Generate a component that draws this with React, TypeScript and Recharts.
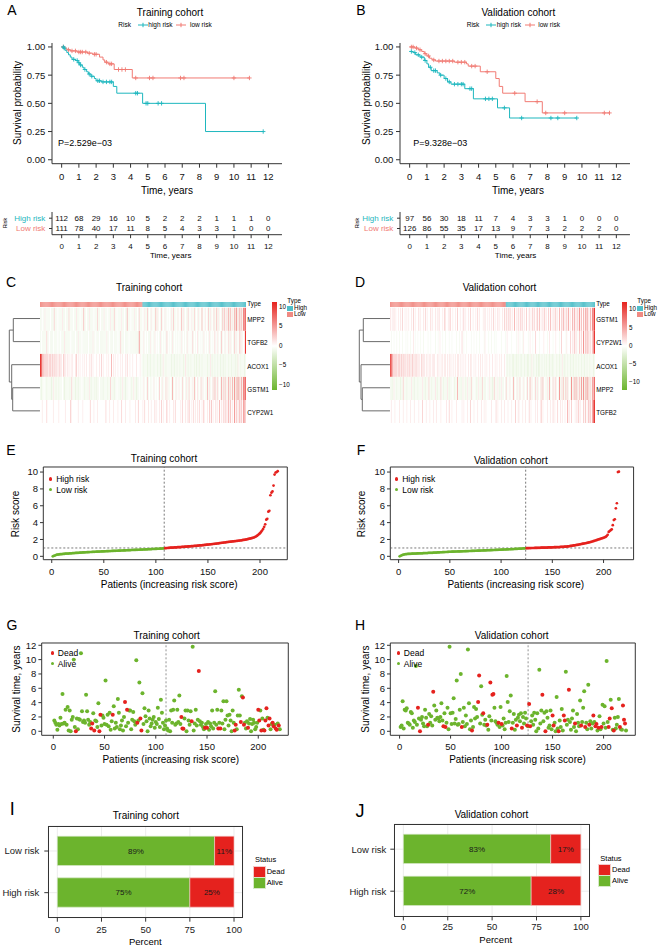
import React from 'react';
import {
  ComposedChart, ScatterChart, BarChart, Line, Scatter, Bar, Cell,
  XAxis, YAxis, ReferenceLine, ReferenceArea, CartesianGrid, LabelList,
} from 'recharts';

// ===================== DATA =====================
const YEARS = [0, 1, 2, 3, 4, 5, 6, 7, 8, 9, 10, 11, 12];
const SURV_TICKS = [0, 0.25, 0.5, 0.75, 1];
const RISK_LABELS = ['Low risk', 'High risk'];

// Kaplan-Meier step points [time, survival]
const A_HIGH = [[0, 1], [0.08, 0.99], [0.2, 0.97], [0.3, 0.95], [0.4, 0.93], [0.5, 0.91], [0.6, 0.89], [0.8, 0.88], [0.95, 0.86], [1.05, 0.84], [1.2, 0.82], [1.3, 0.8], [1.45, 0.78], [1.55, 0.76], [1.7, 0.74], [1.9, 0.72], [2.0, 0.7], [2.3, 0.69], [3.0, 0.65], [3.2, 0.59], [4.7, 0.5], [8.35, 0.25], [11.7, 0.25]];
const A_HIGH_CENS = [[0.1, 1.0], [0.15, 0.99], [0.7, 0.89], [0.9, 0.88], [1.0, 0.86], [1.1, 0.84], [1.35, 0.8], [1.6, 0.76], [1.75, 0.74], [2.1, 0.7], [2.2, 0.7], [2.4, 0.69], [2.6, 0.69], [2.8, 0.69], [2.9, 0.69], [4.3, 0.59], [4.4, 0.59], [4.9, 0.5], [5.0, 0.5], [5.6, 0.5], [5.8, 0.5], [11.7, 0.25]];
const A_LOW = [[0, 1], [0.15, 0.99], [0.3, 0.975], [0.5, 0.965], [0.9, 0.955], [1.5, 0.945], [1.8, 0.935], [2.2, 0.91], [2.4, 0.885], [2.5, 0.865], [2.7, 0.85], [3.05, 0.8], [4.1, 0.725], [10.9, 0.725]];
const A_LOW_CENS = [[0.1, 1.0], [0.4, 0.975], [0.6, 0.965], [0.8, 0.965], [1.0, 0.955], [1.1, 0.955], [1.2, 0.955], [1.4, 0.955], [1.6, 0.945], [1.9, 0.935], [2.0, 0.935], [2.6, 0.865], [2.8, 0.85], [2.9, 0.85], [3.3, 0.8], [3.5, 0.8], [3.7, 0.8], [4.3, 0.725], [5.1, 0.725], [5.3, 0.725], [6.9, 0.725], [7.1, 0.725], [10.0, 0.725], [10.9, 0.725]];
const B_HIGH = [[0, 0.96], [0.2, 0.95], [0.35, 0.93], [0.6, 0.91], [0.85, 0.88], [1.0, 0.85], [1.1, 0.82], [1.25, 0.79], [1.6, 0.77], [1.75, 0.75], [2.0, 0.72], [2.2, 0.69], [2.4, 0.67], [3.2, 0.63], [3.7, 0.54], [5.1, 0.46], [5.8, 0.37], [9.7, 0.37]];
const B_HIGH_CENS = [[0.1, 0.96], [0.3, 0.95], [0.5, 0.93], [0.7, 0.91], [0.9, 0.88], [1.2, 0.82], [1.4, 0.79], [1.5, 0.79], [1.8, 0.75], [2.1, 0.72], [2.3, 0.69], [2.6, 0.67], [2.8, 0.67], [3.0, 0.67], [3.1, 0.67], [3.5, 0.63], [3.6, 0.63], [4.4, 0.54], [4.6, 0.54], [4.8, 0.54], [5.5, 0.46], [6.5, 0.37], [8.2, 0.37], [8.6, 0.37], [9.7, 0.37]];
const B_LOW = [[0, 1], [0.3, 0.99], [0.5, 0.975], [0.7, 0.96], [0.85, 0.94], [1.0, 0.92], [1.15, 0.9], [1.3, 0.885], [1.5, 0.875], [2.6, 0.865], [3.3, 0.85], [3.4, 0.83], [4.1, 0.78], [5.0, 0.72], [5.2, 0.65], [5.4, 0.59], [6.7, 0.515], [7.7, 0.415], [11.6, 0.415]];
const B_LOW_CENS = [[0.1, 1.0], [0.2, 1.0], [0.4, 0.99], [0.6, 0.975], [0.9, 0.94], [1.1, 0.92], [1.4, 0.885], [1.7, 0.875], [1.9, 0.875], [2.1, 0.875], [2.3, 0.875], [2.5, 0.875], [2.8, 0.865], [3.0, 0.865], [3.2, 0.865], [3.6, 0.83], [3.8, 0.83], [4.5, 0.78], [6.1, 0.59], [7.4, 0.515], [7.9, 0.415], [9.0, 0.415], [11.3, 0.415], [11.6, 0.415]];
const A_PVALUE = 'P=2.529e\u221203';
const B_PVALUE = 'P=9.328e\u221203';

// Numbers at risk
const TRAIN_HIGH_N = [112, 68, 29, 16, 10, 5, 2, 2, 2, 1, 1, 1, 0];
const TRAIN_LOW_N = [111, 78, 40, 17, 11, 8, 5, 4, 3, 3, 1, 0, 0];
const VALID_HIGH_N = [97, 56, 30, 18, 11, 7, 4, 3, 3, 1, 0, 0, 0];
const VALID_LOW_N = [126, 86, 55, 35, 17, 13, 9, 7, 3, 2, 2, 2, 0];

// Heatmaps: one char per patient (levels), rows listed top to bottom
const C_GENES = ['MPP2', 'TGFB2', 'ACOX1', 'GSTM1', 'CYP2W1'];
const C_MPP2 = `aa0aa1aaaa a0aaa2aaa0 aaaa1aa0aa a2aaaa0aa1 aaa0aaa3aa 0aa1aaaa0a aa2aa0aaa1 aaa0aa1aaa 2aa0aaaa1a a0aa3aaa0a aa1aa0a2aa
a0a1aa2a0a 1a0aa3a1a0 a2a0a1aa0a 0a1a2aa0a1 a0a3a1a0aa 2a0a1aa2a0 a1a0a3a0a1 0a2a1a0a2a a3a1a0a2a3 1a2a4a3a1a 3a5a2a4a3a 545`;
const C_TGFB2 = `a0aaaaa2aa 0aaa0aaaa0 aa0aaa1aaa aaa0aaaa0a a1aaa0aaaa aa0aaaa1aa 0aaa0aaaaa aa1aa0aaa0 aaaa0aa2aa a0aaaa0aaa aaaaaaa4aa
0a1a0a0aa1 a0aa1a0a0a 1a0a0aa2a0 a0a1a0a0aa 0aa1a0a0a1 a0a0a2a0a0 1a0a0aa1a0 a0a1a0a0a2 0a1a0a2a0a 1a0a2a1a0a 2a1a0a3a1a 017`;
const C_ACOX1 = `7633222221 2212121211 1211021101 1010110012 0101001010 1001020100 0100102010 0010100301 0100100101 0010200100 1000100010
aabaaabaab aaabaaabaa baa1aabaaa aabaabaaba abaaaba1aa baabaaabab aabaabaaaa abaa1abaab aabaabaaba baaabaabaa abab1aabaa aba`;
const C_GSTM1 = `abaa0aabaa aaba1aabaa baaa0abaaa aaba2aaaba abaaa0aaba aaa1abaaab abaa0aaaba aaabaa2aaa baa0aaaba1 aabaaa0aab a1aabaa0aa
0a1a0a2a0a a0a1a0a0a2 0a1a0a2a1a a0a3a0a1a0 1a0a2a0a1a a2a0a1a3a0 1a0a2a1a0a a3a1a0a2a3 1a2a0a3a2a 3a1a4a2a3a 4a3a5a3a4a 545`;
const C_CYP2W1 = `0010000200 0000100000 1000000100 0003000000 0100001000 0000200010 0010000000 0200010001 0000100020 0010000100 0001002000
0102000100 1000201001 0201000300 1000102000 0010200101 0300102010 1020010300 0102030100 2010301020 3020403010 4030204030 432`;
const C_LOW_COUNT = 111;

const D_GENES = ['GSTM1', 'CYP2W1', 'ACOX1', 'MPP2', 'TGFB2'];
const D_GSTM1 = `1010201001 0102001010 1001020100 0201001020 1000201001 0102000102 1001030010 0102001001 2010010200 1001020100 0102001010 1020100201 0010202103 0201030102 1030201020 0201030201 2030102030 1020301020 3010302040 2030401030 4020305030 3040502040 547`;
const D_CYP2W1 = `0a00a00a00 a00a000a0a 00a0010a00 a00a00a000 0a00a0000a 00a0100a00 a000a00a00 00a00a0020 a00a0000a0 0a00a00a00 00a1000a00 a00a0a0000 0a000a0100 00a0000a01 0a00a10000 a0100a0020 00a0000100 0a01000a00 1000a02000 0a10002010 3020a03020 4030403020 347`;
const D_ACOX1 = `6542222212 2121212112 1211211121 1110211101 1011101110 0110101101 1010110101 0101101010 1010010110 0101001010 1001010010 0100101001 010010abaa baabbaabab aabbaabaab baab1abaab abbaabaaba baabaabbaa abaabaa1ab baabaabaab aabaabaaba abaabaabaa aba`;
const D_MPP2 = `aaba1aabaa abaa2aaaba aaa1aabaaa baaaa1aaba aa2aabaaa1 abaaa2aaba aa1abaaa0a baa3aaaba1 aaba1aaa2a a0aaba1aaa 2aaba0aa1a aba2aaa1ab a1aa0a2a0a 1a0a3a0a1a a2a0a1a0a2 0a3a1a0a2a 1a0a2a3a0a a1a3a0a2a1 2a0a4a1a3a a3a2a0a4a1 3a4a2a3a4a 4a3a5a3a2a 435`;
const D_TGFB2 = `0100010000 1000100010 0010001000 0100020001 0001000100 1000010000 0100200100 0010000010 1000100200 0100010001 0010100000 1000020100 0100100010 0010002001 1000100100 0201000010 1000301000 0100100201 0020010100 1004010200 0102030100 2030104030 457`;
const D_LOW_COUNT = 126;

// level char -> expression value
const LEVEL_VALUE: Record<string, number> = { c: -3, b: -1.6, a: -0.8, '0': 0, '1': 1.2, '2': 2.5, '3': 4, '4': 6, '5': 8, '6': 9.5, '7': 11 };
const COLORBAR_TICKS = ['10', '5', '0', '\u22125', '\u221210'];

// Dendrogram merges: [childA, childB, height]; numbers = row index (top = 0), 'mK' = merge K
const C_MERGES: [number | string, number | string, number][] = [[0, 1, 26.7], [3, 4, 27.3], [2, 'm1', 28.3], ['m0', 'm2', 30.7]];
const D_MERGES: [number | string, number | string, number][] = [[0, 1, 26.7], [3, 4, 27.7], [2, 'm1', 29], ['m0', 'm2', 30.7]];

// Risk scores (sorted)
const E_LOW = [0.00, 0.05, 0.10, 0.15, 0.19, 0.21, 0.23, 0.25, 0.26, 0.27,
  0.28, 0.29, 0.31, 0.32, 0.32, 0.33, 0.34, 0.35, 0.36, 0.37,
  0.38, 0.39, 0.40, 0.40, 0.41, 0.42, 0.43, 0.44, 0.45, 0.46,
  0.46, 0.47, 0.48, 0.49, 0.49, 0.50, 0.51, 0.51, 0.52, 0.53,
  0.53, 0.54, 0.55, 0.55, 0.56, 0.56, 0.57, 0.58, 0.58, 0.59,
  0.59, 0.60, 0.61, 0.61, 0.62, 0.62, 0.63, 0.64, 0.64, 0.65,
  0.65, 0.66, 0.66, 0.67, 0.67, 0.68, 0.69, 0.69, 0.70, 0.70,
  0.71, 0.72, 0.72, 0.73, 0.73, 0.74, 0.75, 0.75, 0.76, 0.76,
  0.77, 0.77, 0.78, 0.78, 0.79, 0.80, 0.80, 0.81, 0.81, 0.82,
  0.83, 0.83, 0.84, 0.85, 0.85, 0.86, 0.87, 0.87, 0.88, 0.88,
  0.89, 0.90, 0.90, 0.91, 0.92, 0.93, 0.94, 0.95];
const E_HIGH = [0.97, 0.98, 0.99, 1.00, 1.01, 1.02, 1.03, 1.04, 1.04, 1.05,
  1.06, 1.07, 1.08, 1.08, 1.09, 1.10, 1.11, 1.12, 1.13, 1.14,
  1.15, 1.16, 1.17, 1.18, 1.19, 1.20, 1.21, 1.22, 1.23, 1.24,
  1.25, 1.26, 1.27, 1.29, 1.30, 1.31, 1.32, 1.33, 1.35, 1.36,
  1.38, 1.39, 1.40, 1.42, 1.43, 1.45, 1.46, 1.48, 1.49, 1.51,
  1.52, 1.54, 1.56, 1.58, 1.60, 1.61, 1.63, 1.64, 1.66, 1.68,
  1.70, 1.71, 1.73, 1.74, 1.76, 1.77, 1.79, 1.80, 1.82, 1.83,
  1.85, 1.87, 1.88, 1.90, 1.92, 1.94, 1.96, 1.98, 2.00, 2.03,
  2.06, 2.09, 2.12, 2.15, 2.19, 2.23, 2.28, 2.34, 2.42, 2.52,
  2.63, 2.75, 2.90, 3.05, 3.25, 3.50, 3.80, 4.35, 4.45, 5.30,
  5.40, 7.25, 7.55, 7.70, 8.40, 9.70, 9.95, 10.00, 10.10];
const F_LOW = [0.00, 0.06, 0.12, 0.17, 0.21, 0.24, 0.26, 0.27, 0.28, 0.29,
  0.30, 0.30, 0.31, 0.31, 0.32, 0.32, 0.33, 0.34, 0.34, 0.35,
  0.35, 0.36, 0.36, 0.37, 0.38, 0.38, 0.39, 0.39, 0.40, 0.41,
  0.41, 0.42, 0.42, 0.43, 0.44, 0.44, 0.45, 0.46, 0.46, 0.47,
  0.48, 0.48, 0.49, 0.50, 0.50, 0.51, 0.51, 0.52, 0.53, 0.54,
  0.54, 0.55, 0.55, 0.56, 0.56, 0.57, 0.57, 0.58, 0.58, 0.58,
  0.59, 0.59, 0.60, 0.60, 0.61, 0.61, 0.62, 0.62, 0.63, 0.63,
  0.64, 0.64, 0.65, 0.65, 0.66, 0.66, 0.67, 0.67, 0.68, 0.68,
  0.69, 0.69, 0.70, 0.70, 0.71, 0.71, 0.72, 0.72, 0.73, 0.73,
  0.74, 0.74, 0.75, 0.75, 0.76, 0.77, 0.77, 0.78, 0.78, 0.79,
  0.80, 0.80, 0.81, 0.81, 0.82, 0.83, 0.83, 0.84, 0.84, 0.85,
  0.86, 0.86, 0.87, 0.88, 0.88, 0.89, 0.90, 0.90, 0.91, 0.92,
  0.93, 0.94, 0.95, 0.96];
const F_HIGH = [0.97, 0.97, 0.98, 0.98, 0.98, 0.99, 0.99, 0.99, 1.00, 1.00,
  1.00, 1.01, 1.01, 1.01, 1.02, 1.02, 1.02, 1.03, 1.03, 1.04,
  1.04, 1.05, 1.05, 1.06, 1.06, 1.07, 1.07, 1.08, 1.08, 1.09,
  1.09, 1.10, 1.10, 1.11, 1.12, 1.12, 1.13, 1.14, 1.15, 1.16,
  1.17, 1.19, 1.21, 1.23, 1.25, 1.27, 1.29, 1.31, 1.33, 1.35,
  1.37, 1.40, 1.42, 1.45, 1.47, 1.50, 1.52, 1.55, 1.57, 1.60,
  1.63, 1.66, 1.69, 1.72, 1.76, 1.80, 1.84, 1.88, 1.92, 1.96,
  2.00, 2.04, 2.08, 2.12, 2.16, 2.20, 2.25, 2.30, 2.40, 2.55,
  2.90, 3.00, 3.10, 3.20, 3.70, 4.30, 4.40, 5.70, 6.30, 10.00, 10.05];

// Survival time (years) per patient, and indices (1-based) of dead patients
const G_TIME = [1.5, 1.2, 0.9, 0.2, 1.0, 0.8, 1.9, 1.0, 5.2, 1.1,
  1.2, 3.0, 0.9, 3.4, 0.1, 2.9, 0.0, 1.6, 2.0, 10.0,
  0.6, 0.0, 1.8, 0.3, 1.7, 1.6, 10.9, 2.8, 1.3, 1.5,
  1.2, 5.1, 2.8, 1.6, 0.9, 1.3, 0.4, 1.1, 2.5, 0.1,
  1.5, 1.4, 0.6, 3.9, 0.0, 2.3, 0.8, 2.2, 1.9, 1.0,
  7.1, 0.9, 2.3, 0.7, 2.6, 0.2, 1.4, 2.3, 3.5, 0.4,
  1.2, 0.6, 4.5, 2.6, 0.3, 0.8, 1.5, 0.1, 2.0, 4.1,
  0.7, 3.0, 1.2, 2.9, 2.9, 0.3, 1.6, 2.7, 1.4, 0.9,
  9.9, 1.2, 1.5, 6.8, 1.8, 0.1, 5.3, 1.0, 3.2, 2.1,
  1.4, 0.0, 2.9, 1.8, 0.7, 1.1, 1.6, 2.0, 0.5, 1.3,
  1.0, 3.3, 1.7, 0.6, 4.4, 2.6, 1.2, 0.3, 0.8, 1.5,
  0.4, 0.1, 1.6, 0.0, 2.9, 1.2, 3.0, 4.3, 0.9, 1.1,
  3.0, 1.3, 5.0, 1.0, 2.0, 0.4, 0.35, 1.8, 2.9, 0.0,
  2.9, 1.5, 0.9, 2.8, 1.4, 11.8, 0.1, 1.1, 3.0, 0.8,
  1.6, 8.4, 1.4, 0.9, 1.2, 0.6, 0.3, 0.5, 1.0, 0.5,
  1.3, 0.2, 1.1, 0.7, 2.9, 0.4, 1.2, 5.6, 0.9, 3.0,
  0.4, 1.2, 0.4, 2.9, 1.1, 4.2, 0.3, 1.6, 4.2, 2.2,
  0.8, 2.3, 1.5, 0.0, 2.9, 1.2, 0.1, 0.9, 0.3, 2.2,
  5.8, 2.2, 1.3, 4.9, 4.7, 0.9, 1.2, 0.4, 1.4, 0.5,
  1.1, 1.7, 0.0, 1.0, 1.6, 1.2, 0.3, 0.6, 1.2, 3.0,
  1.5, 2.9, 0.1, 1.8, 0.2, 0.1, 1.5, 3.2, 1.9, 0.8,
  1.8, 0.3, 1.0, 1.2, 0.7, 0.9, 0.4, 0.2, 1.1, 0.8, 0.3];
const G_DEAD = [22, 37, 38, 40, 45, 46, 58, 70, 72, 82, 85, 86, 125, 126, 127, 135, 142, 148, 150, 161, 163, 177, 178, 183, 185, 186, 190, 200, 201, 203, 206, 207, 208, 210, 211, 214, 215, 217, 218, 220];
const H_TIME = [0.6, 0.8, 4.2, 0.4, 3.0, 2.9, 3.2, 1.2, 1.1, 0.9,
  2.7, 2.5, 0.5, 1.5, 1.3, 9.1, 0.9, 3.3, 1.8, 0.0,
  1.6, 2.0, 1.1, 0.7, 3.0, 1.9, 0.7, 0.9, 2.4, 1.2,
  2.1, 0.8, 5.5, 3.6, 1.6, 2.9, 1.9, 1.8, 1.4, 2.0,
  3.9, 1.5, 0.7, 2.5, 0.6, 1.2, 3.3, 0.3, 11.8, 2.5,
  1.0, 2.6, 4.6, 1.1, 1.7, 7.1, 0.9, 1.0, 3.0, 8.0,
  0.6, 1.3, 3.3, 0.7, 2.2, 1.0, 11.4, 3.9, 0.3, 1.5,
  0.1, 0.6, 3.4, 1.8, 3.1, 2.0, 4.1, 7.8, 1.1, 6.3,
  2.3, 2.5, 0.9, 1.6, 0.8, 0.9, 0.2, 2.1, 6.8, 1.5,
  5.1, 5.2, 3.3, 1.4, 1.2, 0.9, 1.2, 0.6, 3.4, 1.0,
  0.8, 1.8, 0.3, 1.2, 7.7, 4.1, 1.3, 2.8, 5.0, 0.4,
  1.2, 2.4, 0.2, 1.6, 0.8, 1.9, 2.3, 1.4, 2.5, 0.5,
  2.0, 1.1, 2.6, 1.8, 0.8, 0.7, 3.8, 0.7, 1.4, 2.2,
  0.9, 2.6, 1.6, 0.0, 2.5, 0.4, 8.6, 1.1, 2.9, 5.1,
  1.4, 2.6, 0.0, 2.8, 1.9, 0.5, 0.8, 2.9, 0.3, 2.2,
  0.8, 1.2, 0.0, 4.8, 0.4, 0.0, 1.5, 0.6, 3.1, 0.1,
  2.2, 1.5, 8.3, 0.9, 1.6, 5.8, 1.3, 0.2, 1.8, 2.9,
  0.6, 1.1, 0.0, 2.4, 1.2, 0.7, 4.3, 0.8, 1.3, 3.3,
  5.6, 0.6, 1.2, 0.3, 6.5, 0.9, 1.4, 0.4, 1.1, 2.2,
  1.3, 0.7, 1.0, 0.1, 0.5, 2.1, 0.3, 0.6, 3.7, 1.1,
  3.5, 0.5, 9.8, 1.3, 0.6, 1.8, 4.4, 3.2, 0.2, 0.1,
  1.9, 0.4, 0.9, 2.0, 4.5, 0.6, 0.3, 0.2, 3.6, 1.6, 1.1, 0.1];
const H_DEAD = [18, 20, 28, 33, 43, 45, 61, 71, 77, 78, 82, 86, 89, 91, 92, 97, 100, 110, 115, 120, 125, 127, 128, 140, 143, 150, 151, 156, 161, 162, 166, 172, 178, 182, 186, 190, 192, 193, 195, 198, 205, 206, 208, 210, 216, 219, 220, 221];

// Status percentages
const STATUS_GROUPS = ['Low risk', 'High risk'];
const TRAIN_ALIVE = [89, 75];
const TRAIN_DEAD = [11, 25];
const VALID_ALIVE = [83, 72];
const VALID_DEAD = [17, 28];

// ===================== STYLE =====================
const FONT = "'Liberation Sans', Arial, Helvetica, sans-serif";
const TEAL = '#1db7be';
const SALMON = '#f17a73';
const RED = '#e5221e';
const GREEN = '#6cb42d';
const AXIS = '#333333';
const TYPE_LOW = '#f08a83';
const TYPE_HIGH = '#4fbec8';
const HM_RED = [230, 35, 30];
const HM_GREEN = [108, 181, 45];
const KM_X_DOMAIN = [-0.56, 12.79];

// ===================== HELPERS =====================
function Txt({ x, y, s = 10, a = 'middle', rot = false, c = '#000', children }: any) {
  const tx = a === 'middle' ? '-50%' : a === 'end' ? '-100%' : '0';
  return (
    <div style={{ position: 'absolute', left: x, top: y, transform: `translate(${rot ? '-50%' : tx},-50%)${rot ? ' rotate(-90deg)' : ''}`, fontSize: s, lineHeight: 1, color: c, whiteSpace: 'nowrap' }}>
      {children}
    </div>
  );
}
function Abs({ left, top, children }: any) {
  return <div style={{ position: 'absolute', left, top }}>{children}</div>;
}
function frame(px0: number, py0: number, px1: number, py1: number, yw: number, xh: number, pad: any) {
  const left = px0 - yw - pad.l;
  const top = py0 - pad.t;
  return { left, top, width: px1 + pad.r - left, height: py1 + xh + pad.b - top, margin: { top: pad.t, right: pad.r, bottom: pad.b, left: pad.l } };
}
const plusShape = (color: string) => (p: any) => (
  <path d={`M${p.cx - 2.2},${p.cy}H${p.cx + 2.2}M${p.cx},${p.cy - 2.2}V${p.cy + 2.2}`} stroke={color} strokeWidth={0.9} fill="none" />
);
const dotShape = (color: string, r: number) => (p: any) => <circle cx={p.cx} cy={p.cy} r={r} fill={color} />;
const pairs = (a: number[][]) => a.map(([t, s]) => ({ t, s }));
function mix(c: number[], t: number) {
  const k = Math.max(0, Math.min(1, t));
  return `rgb(${Math.round(255 + (c[0] - 255) * k)},${Math.round(255 + (c[1] - 255) * k)},${Math.round(255 + (c[2] - 255) * k)})`;
}
function heatColor(ch: string) {
  const v = LEVEL_VALUE[ch] ?? 0;
  return v >= 0 ? mix(HM_RED, v / 11.3) : mix(HM_GREEN, -v / 11.3);
}

// ===================== PANELS =====================
function KM({ px0, px1, high, low, highC, lowC }: any) {
  const f = frame(px0, 43.3, px1, 164, 45, 22, { t: 5, r: 12, b: 0, l: 0 });
  return (
    <Abs left={f.left} top={f.top}>
      <ComposedChart width={f.width} height={f.height} margin={f.margin}>
        <XAxis type="number" dataKey="t" domain={KM_X_DOMAIN} allowDataOverflow ticks={YEARS} interval={0} height={22}
          tickSize={4} tickMargin={6} stroke={AXIS} tick={{ fontSize: 9.5, fill: '#111' }} />
        <YAxis type="number" dataKey="s" domain={[-0.035, 1.035]} allowDataOverflow ticks={SURV_TICKS} interval={0} width={45}
          tickSize={4} tickMargin={2.7} stroke={AXIS} tick={{ fontSize: 9.5, fill: '#111' }} tickFormatter={(v: number) => v.toFixed(2)} />
        <Line data={pairs(low)} dataKey="s" type="stepAfter" stroke={SALMON} strokeWidth={1} dot={false} isAnimationActive={false} />
        <Line data={pairs(high)} dataKey="s" type="stepAfter" stroke={TEAL} strokeWidth={1} dot={false} isAnimationActive={false} />
        <Scatter data={pairs(lowC)} shape={plusShape(SALMON)} isAnimationActive={false} />
        <Scatter data={pairs(highC)} shape={plusShape(TEAL)} isAnimationActive={false} />
      </ComposedChart>
    </Abs>
  );
}

function LegendKey({ x, color }: any) {
  return (
    <svg style={{ position: 'absolute', left: x, top: 21 }} width={10} height={8}>
      <line x1={0} y1={4} x2={10} y2={4} stroke={color} strokeWidth={1} />
      <line x1={5} y1={1.8} x2={5} y2={6.2} stroke={color} strokeWidth={1} />
    </svg>
  );
}
function KMLegend({ xs }: any) {
  return (
    <>
      <Txt x={xs[0]} y={25} s={6.5} a="start">Risk</Txt>
      <LegendKey x={xs[1]} color={TEAL} />
      <Txt x={xs[2]} y={25} s={6.5} a="start">high risk</Txt>
      <LegendKey x={xs[3]} color={SALMON} />
      <Txt x={xs[4]} y={25} s={6.5} a="start">low risk</Txt>
    </>
  );
}

function RiskTable({ px0, px1, high, low }: any) {
  const f = frame(px0, 211.8, px1, 234.5, 45, 20, { t: 3, r: 12, b: 0, l: 0 });
  const cells = YEARS.flatMap((t, i) => [{ t, r: 2, n: high[i] }, { t, r: 1, n: low[i] }]);
  const tick = (p: any) => (
    <text x={p.x} y={p.y} dy="0.35em" textAnchor="end" fontSize={8} fill={p.payload.value === 2 ? TEAL : SALMON}>
      {RISK_LABELS[p.payload.value - 1]}
    </text>
  );
  return (
    <Abs left={f.left} top={f.top}>
      <ComposedChart width={f.width} height={f.height} margin={f.margin}>
        <XAxis type="number" dataKey="t" domain={KM_X_DOMAIN} allowDataOverflow ticks={YEARS} interval={0} height={20}
          tickSize={3.5} tickMargin={4.8} stroke={AXIS} tick={{ fontSize: 8, fill: '#111' }} />
        <YAxis type="number" dataKey="r" domain={[0.4, 2.6]} allowDataOverflow ticks={[1, 2]} interval={0} width={45}
          tickSize={3} tickMargin={3.7} stroke={AXIS} tick={tick} />
        <Scatter data={cells} isAnimationActive={false}
          shape={(p: any) => <text x={p.cx} y={p.cy} dy="0.35em" textAnchor="middle" fontSize={8} fill="#111">{p.payload.n}</text>} />
      </ComposedChart>
    </Abs>
  );
}

function Heatmap({ px0, px1, rows, nLow }: any) {
  const clean: string[] = rows.map((r: string) => r.replace(/\s/g, ''));
  const n = clean[0].length;
  const data = Array.from({ length: n }, (_, i) => ({ i, r0: 1, r1: 1, r2: 1, r3: 1, r4: 1, gap: 0.025, typ: 0.22 }));
  return (
    <Abs left={px0} top={301.7}>
      <BarChart width={px1 - px0} height={121} data={data} margin={{ top: 0, right: 0, bottom: 0, left: 0 }} barCategoryGap={0} barGap={0}>
        <XAxis dataKey="i" type="category" hide />
        <YAxis type="number" domain={[0, 5.245]} allowDataOverflow hide />
        {[4, 3, 2, 1, 0].map((k) => (
          <Bar key={k} dataKey={`r${k}`} stackId="s" isAnimationActive={false}>
            {data.map((d) => <Cell key={d.i} fill={heatColor(clean[k][d.i])} />)}
          </Bar>
        ))}
        <Bar dataKey="gap" stackId="s" fill="rgba(255,255,255,0)" isAnimationActive={false} />
        <Bar dataKey="typ" stackId="s" isAnimationActive={false}>
          {data.map((d) => <Cell key={d.i} fill={d.i < nLow ? TYPE_LOW : TYPE_HIGH} />)}
        </Bar>
      </BarChart>
    </Abs>
  );
}

function buildLinks(merges: [number | string, number | string, number][]) {
  const nodes: { h: number; y: number }[] = [];
  const get = (k: number | string) => (typeof k === 'number' ? { h: 0, y: 4.5 - k } : nodes[Number(String(k).slice(1))]);
  return merges.map(([a, b, h]) => {
    const A = get(a);
    const B = get(b);
    nodes.push({ h, y: (A.y + B.y) / 2 });
    return [{ h: A.h, y: A.y }, { h, y: A.y }, { h, y: B.y }, { h: B.h, y: B.y }];
  });
}
function Dendro({ px0, px1, merges }: any) {
  const links = buildLinks(merges);
  return (
    <Abs left={px0} top={307.3}>
      <ComposedChart width={px1 - px0} height={115.4} margin={{ top: 0, right: 0, bottom: 0, left: 0 }}>
        <XAxis type="number" dataKey="h" domain={[0, 35]} reversed allowDataOverflow hide />
        <YAxis type="number" dataKey="y" domain={[0, 5]} allowDataOverflow hide />
        {links.map((l, i) => (
          <Line key={i} data={l} dataKey="y" type="linear" stroke="#6a6a6a" strokeWidth={1} dot={false} isAnimationActive={false} />
        ))}
      </ComposedChart>
    </Abs>
  );
}

function HeatDecor({ title, titleX, genes, labelX, barX, barLabelX, tickYs, typeX }: any) {
  const rowY = [320, 343, 366.5, 389.5, 412.5];
  return (
    <>
      <Txt x={titleX} y={288.3} s={10}>{title}</Txt>
      <div style={{ position: 'absolute', left: barX, top: 301.7, width: 5.6, height: 88.3, background: `linear-gradient(to bottom, rgb(${HM_RED.join(',')}) 0%, #ffffff 50%, rgb(${HM_GREEN.join(',')}) 100%)` }} />
      <Txt x={labelX} y={304} s={6.3} a="start">Type</Txt>
      {genes.map((g: string, i: number) => (
        <Txt key={g} x={labelX} y={rowY[i]} s={6.3} a="start">{g}</Txt>
      ))}
      {COLORBAR_TICKS.map((t, i) => (
        <Txt key={t} x={barLabelX} y={tickYs[i]} s={6.3} a="start">{t}</Txt>
      ))}
      <Txt x={typeX} y={300.8} s={6.3} a="start">Type</Txt>
      <div style={{ position: 'absolute', left: typeX, top: 305.8, width: 5.5, height: 5, background: TYPE_HIGH }} />
      <div style={{ position: 'absolute', left: typeX, top: 311.6, width: 5.5, height: 5, background: TYPE_LOW }} />
      <Txt x={typeX + 6.8} y={308.4} s={6.3} a="start">High</Txt>
      <Txt x={typeX + 6.8} y={314.3} s={6.3} a="start">Low</Txt>
    </>
  );
}

function ScorePanel({ px0, px1, xDom, low, high }: any) {
  const f = frame(px0, 467.3, px1, 560, 43.3, 22, { t: 2, r: 10, b: 0, l: 0 });
  const lowPts = low.map((y: number, i: number) => ({ x: i + 1, y }));
  const highPts = high.map((y: number, i: number) => ({ x: low.length + i + 1, y }));
  return (
    <Abs left={f.left} top={f.top}>
      <ScatterChart width={f.width} height={f.height} margin={f.margin}>
        <XAxis type="number" dataKey="x" domain={xDom} allowDataOverflow ticks={[0, 50, 100, 150, 200]} interval={0} height={22}
          tickSize={3.3} tickMargin={5} axisLine={false} stroke={AXIS} tick={{ fontSize: 9.5, fill: '#111' }} />
        <YAxis type="number" dataKey="y" domain={[-0.4, 10.6]} allowDataOverflow ticks={[0, 2, 4, 6, 8, 10]} interval={0} width={43.3}
          tickSize={3.3} tickMargin={2} axisLine={false} stroke={AXIS} tick={{ fontSize: 9.5, fill: '#111' }} />
        <ReferenceArea x1={xDom[0]} x2={xDom[1]} y1={-0.4} y2={10.6} fill="none" stroke={AXIS} strokeWidth={1} ifOverflow="visible" />
        <Scatter data={lowPts} shape={dotShape(GREEN, 1.35)} isAnimationActive={false} />
        <Scatter data={highPts} shape={dotShape(RED, 1.35)} isAnimationActive={false} />
        <ReferenceLine y={0.99} stroke="#555" strokeDasharray="2 2" strokeWidth={0.8} />
        <ReferenceLine x={low.length} stroke="#555" strokeDasharray="2 2" strokeWidth={0.8} />
      </ScatterChart>
    </Abs>
  );
}

function TimePanel({ px0, px1, xDom, times, dead, cut, yw }: any) {
  const f = frame(px0, 642.7, px1, 735, yw, 22, { t: 2, r: 10, b: 0, l: 0 });
  const deadSet = new Set(dead);
  const pts = times.map((y: number, i: number) => ({ x: i + 1, y, d: deadSet.has(i + 1) }));
  return (
    <Abs left={f.left} top={f.top}>
      <ScatterChart width={f.width} height={f.height} margin={f.margin}>
        <XAxis type="number" dataKey="x" domain={xDom} allowDataOverflow ticks={[0, 50, 100, 150, 200]} interval={0} height={22}
          tickSize={3.3} tickMargin={5} axisLine={false} stroke={AXIS} tick={{ fontSize: 9.5, fill: '#111' }} />
        <YAxis type="number" dataKey="y" domain={[-0.56, 12.32]} allowDataOverflow ticks={[0, 2, 4, 6, 8, 10, 12]} interval={0} width={yw}
          tickSize={3.3} tickMargin={2} axisLine={false} stroke={AXIS} tick={{ fontSize: 9.5, fill: '#111' }} />
        <ReferenceArea x1={xDom[0]} x2={xDom[1]} y1={-0.56} y2={12.32} fill="none" stroke={AXIS} strokeWidth={1} ifOverflow="visible" />
        <Scatter data={pts.filter((p: any) => !p.d)} shape={dotShape(GREEN, 2)} isAnimationActive={false} />
        <Scatter data={pts.filter((p: any) => p.d)} shape={dotShape(RED, 2)} isAnimationActive={false} />
        <ReferenceLine x={cut} stroke="#777" strokeDasharray="2 2" strokeWidth={0.8} />
      </ScatterChart>
    </Abs>
  );
}

function DotLegend({ x, y, labels, colors }: any) {
  return (
    <>
      {labels.map((l: string, i: number) => (
        <React.Fragment key={l}>
          <div style={{ position: 'absolute', left: x - 1.8, top: y + i * 10.5 - 1.8, width: 3.6, height: 3.6, borderRadius: '50%', background: colors[i] }} />
          <Txt x={x + 5.5} y={y + i * 10.5} s={8.5} a="start">{l}</Txt>
        </React.Fragment>
      ))}
    </>
  );
}

function StatusPanel({ px0, px1, py0, py1, alive, dead, ytm, xtm }: any) {
  const f = frame(px0, py0, px1, py1, 48.3, 24, { t: 2, r: 5, b: 0, l: 0 });
  const data = STATUS_GROUPS.map((g, i) => ({ group: g, alive: alive[i], dead: dead[i] }));
  const pct = (v: any) => `${v}%`;
  const ytick = (p: any) => (
    <text x={p.x} y={p.y} dy="0.35em" textAnchor="end" fontSize={9.5} fill="#222">{p.payload.value}</text>
  );
  return (
    <>
      <Abs left={f.left} top={f.top}>
        <BarChart layout="vertical" width={f.width} height={f.height} margin={f.margin} data={data} barSize={29.3}>
          <CartesianGrid stroke="#ececec" />
          <XAxis type="number" domain={[-5.1, 104.9]} allowDataOverflow ticks={[0, 25, 50, 75, 100]} interval={0} height={24}
            tickSize={4} tickMargin={xtm} axisLine={false} stroke={AXIS} tick={{ fontSize: 9.5, fill: '#222' }} />
          <YAxis type="category" dataKey="group" width={48.3} padding={{ top: 4.2, bottom: 4.2 }} interval={0}
            tickSize={4} tickMargin={ytm} axisLine={false} stroke={AXIS} tick={ytick} />
          <Bar dataKey="alive" stackId="s" fill={GREEN} stroke="#dcebd0" strokeWidth={0.6} isAnimationActive={false}>
            <LabelList dataKey="alive" position="center" formatter={pct} fill="#1a1a1a" fontSize={8} />
          </Bar>
          <Bar dataKey="dead" stackId="s" fill={RED} stroke="#f3d0cf" strokeWidth={0.6} isAnimationActive={false}>
            <LabelList dataKey="dead" position="center" formatter={pct} fill="#1a1a1a" fontSize={8} />
          </Bar>
        </BarChart>
      </Abs>
      <div style={{ position: 'absolute', left: px0 - 0.5, top: py0 - 0.5, width: px1 - px0 + 1, height: py1 - py0 + 1, border: `1px solid ${AXIS}`, boxSizing: 'border-box' }} />
    </>
  );
}

function StatusLegend({ x, y }: any) {
  return (
    <>
      <Txt x={x + 1} y={y} s={7.5} a="start">Status</Txt>
      <div style={{ position: 'absolute', left: x, top: y + 6.4, width: 11, height: 10.6, background: RED, outline: '0.5px solid #f4c9c8' }} />
      <div style={{ position: 'absolute', left: x, top: y + 17.2, width: 11, height: 10.6, background: GREEN, outline: '0.5px solid #d7e9c8' }} />
      <Txt x={x + 12.7} y={y + 11.7} s={7.5} a="start">Dead</Txt>
      <Txt x={x + 12.7} y={y + 22.5} s={7.5} a="start">Alive</Txt>
    </>
  );
}

// ===================== APP =====================
export default function App() {
  return (
    <div style={{ position: 'absolute', left: 0, top: 0, width: 659, height: 947, background: '#fff', fontFamily: FONT, overflow: 'hidden', color: '#000' }}>
      {/* A */}
      <Txt x={12} y={10} s={14}>A</Txt>
      <Txt x={170} y={12.5} s={10}>Training cohort</Txt>
      <KMLegend xs={[118.3, 137.5, 148.3, 176, 190]} />
      <KM px0={51.7} px1={281.7} high={A_HIGH} low={A_LOW} highC={A_HIGH_CENS} lowC={A_LOW_CENS} />
      <Txt x={58} y={143} s={9} a="start">{A_PVALUE}</Txt>
      <Txt x={18} y={103} s={10} rot>Survival probability</Txt>
      <Txt x={167} y={190.5} s={10}>Time, years</Txt>
      <RiskTable px0={51.7} px1={281.7} high={TRAIN_HIGH_N} low={TRAIN_LOW_N} />
      <Txt x={6} y={223} s={5.5} rot>Risk</Txt>
      <Txt x={170.7} y={255.7} s={8}>Time, years</Txt>

      {/* B */}
      <Txt x={361} y={10} s={14}>B</Txt>
      <Txt x={518.3} y={12.5} s={10}>Validation cohort</Txt>
      <KMLegend xs={[466.7, 485.8, 496.7, 524.5, 538.3]} />
      <KM px0={400} px1={630} high={B_HIGH} low={B_LOW} highC={B_HIGH_CENS} lowC={B_LOW_CENS} />
      <Txt x={413.3} y={143} s={9} a="start">{B_PVALUE}</Txt>
      <Txt x={366.5} y={103} s={10} rot>Survival probability</Txt>
      <Txt x={518} y={190.5} s={10}>Time, years</Txt>
      <RiskTable px0={400} px1={630} high={VALID_HIGH_N} low={VALID_LOW_N} />
      <Txt x={357.5} y={223} s={5.5} rot>Risk</Txt>
      <Txt x={515.6} y={255.7} s={8}>Time, years</Txt>

      {/* C */}
      <Txt x={11} y={282} s={14}>C</Txt>
      <Dendro px0={5} px1={40} merges={C_MERGES} />
      <Heatmap px0={40} px1={246} rows={[C_MPP2, C_TGFB2, C_ACOX1, C_GSTM1, C_CYP2W1]} nLow={C_LOW_COUNT} />
      <HeatDecor title="Training cohort" titleX={149.2} genes={C_GENES} labelX={247.3} barX={271.7} barLabelX={279}
        tickYs={[306.7, 326.2, 345.8, 365.3, 384.7]} typeX={287.3} />

      {/* D */}
      <Txt x={360} y={282} s={14}>D</Txt>
      <Dendro px0={355} px1={390} merges={D_MERGES} />
      <Heatmap px0={390} px1={595} rows={[D_GSTM1, D_CYP2W1, D_ACOX1, D_MPP2, D_TGFB2]} nLow={D_LOW_COUNT} />
      <HeatDecor title="Validation cohort" titleX={499.5} genes={D_GENES} labelX={596.2} barX={621.7} barLabelX={629}
        tickYs={[309.3, 327.7, 346, 364, 381.7]} typeX={637.3} />

      {/* E */}
      <Txt x={11} y={450} s={14}>E</Txt>
      <Txt x={164} y={458.7} s={10}>Training cohort</Txt>
      <ScorePanel px0={43.3} px1={287.3} xDom={[-8.1, 226.2]} low={E_LOW} high={E_HIGH} />
      <DotLegend x={50.7} y={479} labels={['High risk', 'Low risk']} colors={[RED, GREEN]} />
      <Txt x={16.3} y={514} s={10} rot>Risk score</Txt>
      <Txt x={169.2} y={585} s={10}>Patients (increasing risk score)</Txt>

      {/* F */}
      <Txt x={361} y={450} s={14}>F</Txt>
      <Txt x={510.8} y={461} s={10}>Validation cohort</Txt>
      <ScorePanel px0={390} px1={633.3} xDom={[-8.1, 229.3]} low={F_LOW} high={F_HIGH} />
      <DotLegend x={396.7} y={479} labels={['High risk', 'Low risk']} colors={[RED, GREEN]} />
      <Txt x={362} y={514} s={10} rot>Risk score</Txt>
      <Txt x={515.8} y={585} s={10}>Patients (increasing risk score)</Txt>

      {/* G */}
      <Txt x={12} y={625} s={14}>G</Txt>
      <Txt x={166.7} y={635.5} s={10}>Training cohort</Txt>
      <TimePanel px0={41.7} px1={288.3} xDom={[-11.3, 229.3]} times={G_TIME} dead={G_DEAD} cut={110} yw={41.7} />
      <DotLegend x={52.3} y={653} labels={['Dead', 'Alive']} colors={[RED, GREEN]} />
      <Txt x={16.8} y={689} s={10} rot>Survival time, years</Txt>
      <Txt x={170.8} y={760} s={10}>Patients (increasing risk score)</Txt>

      {/* H */}
      <Txt x={360} y={625} s={14}>H</Txt>
      <Txt x={511.7} y={635.5} s={10}>Validation cohort</Txt>
      <TimePanel px0={390} px1={635} xDom={[-9.1, 231.1]} times={H_TIME} dead={H_DEAD} cut={126} yw={43.3} />
      <DotLegend x={398.3} y={653} labels={['Dead', 'Alive']} colors={[RED, GREEN]} />
      <Txt x={365.5} y={689} s={10} rot>Survival time, years</Txt>
      <Txt x={517.5} y={760} s={10}>Patients (increasing risk score)</Txt>

      {/* I */}
      <Txt x={12.3} y={808.5} s={18}>I</Txt>
      <Txt x={145.8} y={816.3} s={10}>Training cohort</Txt>
      <StatusPanel px0={48.3} px1={242.7} py0={826} py1={917.7} alive={TRAIN_ALIVE} dead={TRAIN_DEAD} ytm={5} xtm={4.2} />
      <StatusLegend x={254} y={860.3} />
      <Txt x={145.3} y={942} s={9.5}>Percent</Txt>

      {/* J */}
      <Txt x={360} y={811} s={18}>J</Txt>
      <Txt x={491.5} y={814.5} s={10}>Validation cohort</Txt>
      <StatusPanel px0={394} px1={589.3} py0={824.3} py1={916.7} alive={VALID_ALIVE} dead={VALID_DEAD} ytm={4} xtm={2.6} />
      <StatusLegend x={599.3} y={858.6} />
      <Txt x={495.7} y={940} s={9.5}>Percent</Txt>
    </div>
  );
}
